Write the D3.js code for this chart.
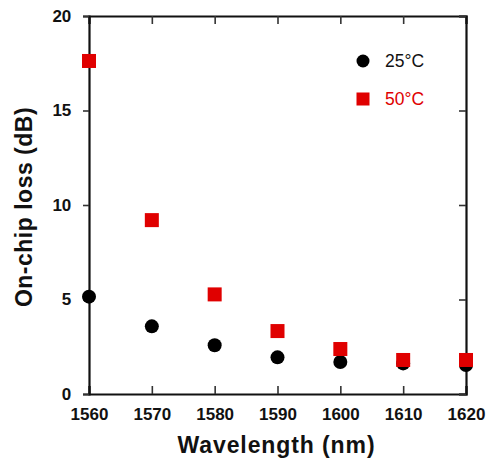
<!DOCTYPE html>
<html>
<head>
<meta charset="utf-8">
<script src="https://cdn.jsdelivr.net/npm/d3@7"></script>
<style>
  html, body { margin: 0; padding: 0; background: #fff; }
  svg { display: block; }
</style>
</head>
<body>
<svg id="chart" width="488" height="464"></svg>
<script>
// Measured on-chip loss vs. wavelength at two temperatures
const wavelengths = [1560, 1570, 1580, 1590, 1600, 1610, 1620];
const loss25 = [5.15, 3.58, 2.58, 1.94, 1.69, 1.62, 1.53];
const loss50 = [17.62, 9.2, 5.27, 3.33, 2.38, 1.8, 1.8];
const xTicks = [1560, 1570, 1580, 1590, 1600, 1610, 1620];
const yTicks = [0, 5, 10, 15, 20];
const seriesNames = ["25°C", "50°C"];

const svg = d3.select("#chart");
const margin = { left: 89, right: 22, top: 16, bottom: 70 };
const W = 488, H = 464;
const x = d3.scaleLinear().domain([1560, 1620]).range([margin.left, W - margin.right]);
const y = d3.scaleLinear().domain([0, 20]).range([H - margin.bottom, margin.top]);

const red = "#e00000";
const tickFont = "'Liberation Sans', Arial, sans-serif";

// Axes: bottom/top ticks point inward, left ticks outward, right ticks inward
const gBottom = svg.append("g").attr("transform", `translate(0,${y(0)})`)
  .call(d3.axisBottom(x).tickValues(xTicks).tickSize(-8).tickPadding(14).tickFormat(d3.format("d")));
const gTop = svg.append("g").attr("transform", `translate(0,${y(20)})`)
  .call(d3.axisTop(x).tickValues(xTicks).tickSize(-8).tickFormat(""));
const gLeft = svg.append("g").attr("transform", `translate(${x(1560)},0)`)
  .call(d3.axisLeft(y).tickValues(yTicks).tickSize(6).tickPadding(10).tickFormat(d3.format("d")));
const gRight = svg.append("g").attr("transform", `translate(${x(1620)},0)`)
  .call(d3.axisRight(y).tickValues(yTicks).tickSize(-7).tickFormat(""));

[gBottom, gTop, gLeft, gRight].forEach(g => {
  g.select(".domain").attr("stroke", "#111").attr("stroke-width", 2.2);
  g.selectAll(".tick line").attr("stroke", "#333").attr("stroke-width", 1.6);
  g.selectAll(".tick text")
    .attr("fill", "#111")
    .style("font-family", tickFont)
    .style("font-size", "17px")
    .style("font-weight", "bold");
});
gLeft.selectAll(".tick text").attr("dx", "-0.1em");

// Axis titles
svg.append("text")
  .attr("x", (x(1560) + x(1620)) / 2 - 1)
  .attr("y", 453)
  .attr("text-anchor", "middle")
  .style("font-family", tickFont)
  .style("font-size", "23px")
  .style("letter-spacing", "0.9px")
  .style("font-weight", "bold")
  .attr("fill", "#111")
  .text("Wavelength (nm)");

svg.append("text")
  .attr("transform", `translate(32,${207}) rotate(-90)`)
  .attr("text-anchor", "middle")
  .style("font-family", tickFont)
  .style("font-size", "23px")
  .style("letter-spacing", "0.5px")
  .style("font-weight", "bold")
  .attr("fill", "#111")
  .text("On-chip loss (dB)");

// Data markers
const pts25 = wavelengths.map((w, i) => ({ w, v: loss25[i] }));
const pts50 = wavelengths.map((w, i) => ({ w, v: loss50[i] }));

svg.append("g").selectAll("circle").data(pts25).join("circle")
  .attr("cx", d => x(d.w)).attr("cy", d => y(d.v)).attr("r", 7)
  .attr("fill", "#000");

const sq = 14;
svg.append("g").selectAll("rect").data(pts50).join("rect")
  .attr("x", d => x(d.w) - sq / 2).attr("y", d => y(d.v) - sq / 2)
  .attr("width", sq).attr("height", sq)
  .attr("fill", red);

// Legend
const legend = svg.append("g");
legend.append("circle").attr("cx", 363).attr("cy", 61).attr("r", 6.5).attr("fill", "#000");
legend.append("rect").attr("x", 363 - 6.5).attr("y", 99 - 6.5).attr("width", 13).attr("height", 13).attr("fill", red);
legend.selectAll("text").data(seriesNames).join("text")
  .attr("x", 385)
  .attr("y", (d, i) => 67 + i * 38)
  .style("font-family", tickFont)
  .style("font-size", "17.5px")
  .attr("fill", (d, i) => i === 0 ? "#111" : red)
  .text(d => d);
</script>
</body>
</html>
